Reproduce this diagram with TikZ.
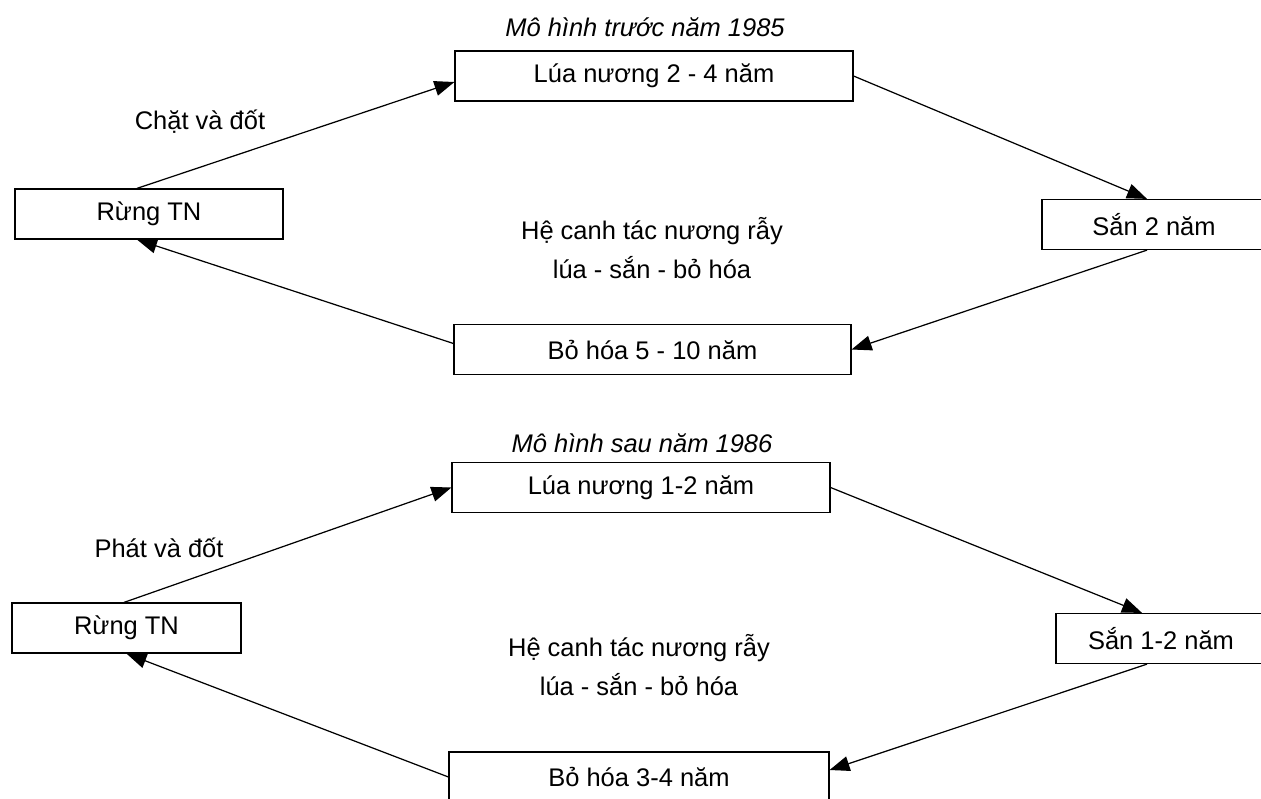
\documentclass[tikz,border=0pt]{standalone}
\usepackage{fontspec}
\setmainfont{Liberation Sans}
\usetikzlibrary{arrows.meta}

\begin{document}
\begin{tikzpicture}[x=0.02cm, y=-0.02cm,
    stage/.style={draw, line width=0.7pt, minimum height=1cm, inner sep=0pt,
        font=\fontsize{14.5}{17}\selectfont},
    flow/.style={-{Triangle[length=0.4cm, width=0.3cm]}, line width=0.7pt},
    note/.style={font=\fontsize{14.5}{22}\selectfont, align=center},
    heading/.style={font=\fontsize{14.5}{17}\selectfont\itshape}]

    \useasboundingbox (0,0) rectangle (1261,798);

    % Model before 1985
        %% stages 1
        \node [heading] (title1) at (645, 27) {Mô hình trước năm 1985};
        \node [stage, minimum width=7.96cm] (lua1) at (654, 76) {Lúa nương 2 - 4 năm};
        \node [stage, minimum width=5.36cm] (rung1) at (149, 214) {Rừng TN};
        \node [stage, minimum width=4.48cm] (san1) at (1154, 224.5) {Sắn 2 năm};
        \node [stage, minimum width=7.94cm] (bo1) at (652.5, 349.5) {Bỏ hóa 5 - 10 năm};
        \node [note] (cut1) at (200, 122) {Chặt và đốt};
        \node [note] (sys1) at (652, 248) {Hệ canh tác nương rẫy\\lúa - sắn - bỏ hóa};

        %% cycle 1
        \draw [flow] ([xshift=-0.24cm]rung1.north) -- ([yshift=-0.12cm]lua1.west);
        \draw [flow] (lua1.east) -- ([xshift=-0.14cm]san1.north);
        \draw [flow] ([xshift=-0.14cm]san1.south) -- (bo1.east);
        \draw [flow] ([yshift=0.12cm]bo1.west) -- ([xshift=-0.24cm]rung1.south);

    % Model after 1986
        %% stages 2
        \node [heading] (title2) at (642, 443) {Mô hình sau năm 1986};
        \node [stage, minimum width=7.56cm] (lua2) at (641, 487.5) {Lúa nương 1-2 năm};
        \node [stage, minimum width=4.58cm] (rung2) at (126.5, 628) {Rừng TN};
        \node [stage, minimum width=4.2cm] (san2) at (1161, 638.5) {Sắn 1-2 năm};
        \node [stage, minimum width=7.6cm] (bo2) at (639, 777) {Bỏ hóa 3-4 năm};
        \node [note] (cut2) at (159, 548) {Phát và đốt};
        \node [note] (sys2) at (639, 665) {Hệ canh tác nương rẫy\\lúa - sắn - bỏ hóa};

        %% cycle 2
        \draw [flow] ([xshift=-0.05cm]rung2.north) -- (lua2.west);
        \draw [flow] (lua2.east) -- ([xshift=-0.38cm]san2.north);
        \draw [flow] ([xshift=-0.28cm]san2.south) -- ([yshift=0.14cm]bo2.east);
        \draw [flow] (bo2.west) -- (rung2.south);

\end{tikzpicture}
\end{document}
